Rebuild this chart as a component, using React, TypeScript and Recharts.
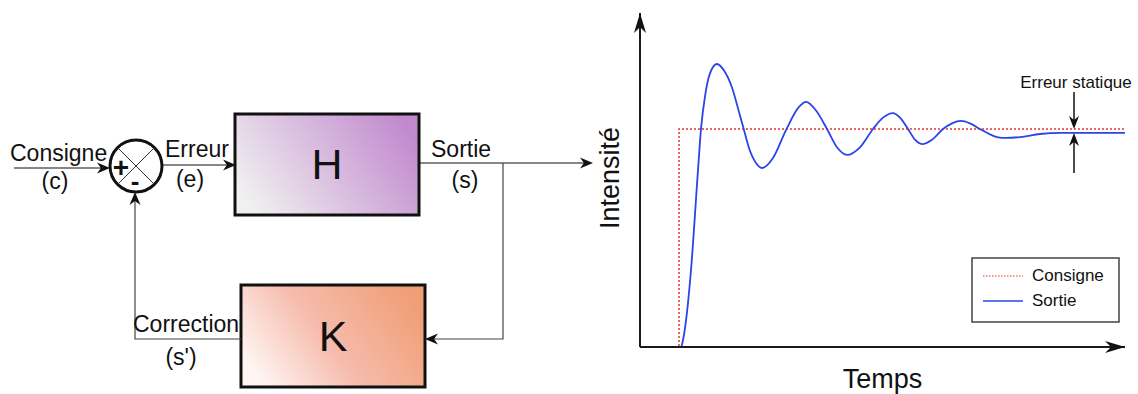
import React from "react"
import { LineChart, Line, XAxis, YAxis, ReferenceDot, Legend } from "recharts"

// time axis runs 0..485, value 1 = consigne level
const consigneT = [0, 39, 485]
const consigneV = [0, 1, 1]

const sortieT = [
  0, 41, 43, 48, 51, 58, 61, 65, 70, 77, 84, 92, 99, 104, 109, 116, 122, 133, 146, 159, 166, 176,
  187, 197, 207, 220, 233, 243, 253, 260, 268, 275, 282, 292, 303, 312, 321, 330, 340, 357, 366,
  380, 400, 420, 485,
]
const sortieV = [
  0, 0, 0.032, 0.202, 0.353, 0.812, 1.0, 1.15, 1.255, 1.298, 1.268, 1.19, 1.078, 0.995, 0.913,
  0.844, 0.821, 0.867, 0.995, 1.101, 1.124, 1.085, 1.0, 0.916, 0.881, 0.916, 1.0, 1.052, 1.073,
  1.052, 1.0, 0.951, 0.931, 0.951, 1.0, 1.026, 1.037, 1.026, 1.0, 0.963, 0.959, 0.963, 0.977,
  0.982, 0.982,
]

const errT = 434
const finalV = sortieV[sortieV.length - 1]
const yMax = 1.532
const xMax = 485

const consigneData = consigneT.map((t, i) => ({ t, v: consigneV[i] }))
const sortieData = sortieT.map((t, i) => ({ t, v: sortieV[i] }))

const FONT = "'Liberation Sans', Arial, sans-serif"
const RED = "#e0352b"
const BLUE = "#2a44e8"

function arrowHead(x: number, y: number, dir: "r" | "l" | "u" | "d", len = 13, w = 5.5) {
  const n = len * 0.7
  if (dir === "r") return `M${x},${y} L${x - len},${y - w} L${x - n},${y} L${x - len},${y + w} Z`
  if (dir === "l") return `M${x},${y} L${x + len},${y - w} L${x + n},${y} L${x + len},${y + w} Z`
  if (dir === "u") return `M${x},${y} L${x - w},${y + len} L${x},${y + n} L${x + w},${y + len} Z`
  return `M${x},${y} L${x - w},${y - len} L${x},${y - n} L${x + w},${y - len} Z`
}

function BlockDiagram() {
  const txt = { fontFamily: FONT, fontSize: 23, fill: "#111" }
  return (
    <svg width={600} height={394} style={{ position: "absolute", left: 0, top: 0, overflow: "visible" }}>
      <defs>
        <linearGradient id="gH" x1="0" y1="0.7" x2="1" y2="0.3">
          <stop offset="0" stopColor="#f0f0f0" />
          <stop offset="1" stopColor="#c28ace" />
        </linearGradient>
        <linearGradient id="gK" x1="0" y1="0.7" x2="1" y2="0.3">
          <stop offset="0" stopColor="#fff6f4" />
          <stop offset="0.45" stopColor="#f6bcad" />
          <stop offset="1" stopColor="#f09e76" />
        </linearGradient>
      </defs>

      {/* consigne input */}
      <line x1={14} y1={168} x2={104} y2={168} stroke="#111" strokeWidth={1.2} />
      <path d={arrowHead(110, 168, "r")} fill="#111" />
      <text x={10} y={161} {...txt}>Consigne</text>
      <text x={55} y={189} textAnchor="middle" {...txt}>(c)</text>

      {/* summing junction */}
      <circle cx={136} cy={166} r={26} fill="#fff" stroke="#111" strokeWidth={3} />
      <line x1={117.6} y1={147.6} x2={154.4} y2={184.4} stroke="#333" strokeWidth={1} />
      <line x1={154.4} y1={147.6} x2={117.6} y2={184.4} stroke="#333" strokeWidth={1} />
      <text x={121} y={177} textAnchor="middle" fontFamily={FONT} fontSize={28} fontWeight="bold" fill="#111">+</text>
      <text x={135} y={190} textAnchor="middle" fontFamily={FONT} fontSize={26} fontWeight="bold" fill="#111">-</text>

      {/* erreur */}
      <line x1={162} y1={165} x2={230} y2={165} stroke="#111" strokeWidth={1.2} />
      <path d={arrowHead(236, 165, "r")} fill="#111" />
      <text x={165} y={157} {...txt}>Erreur</text>
      <text x={190} y={187} textAnchor="middle" {...txt}>(e)</text>

      {/* H block */}
      <rect x={235} y={114} width={184} height={101} fill="url(#gH)" stroke="#111" strokeWidth={3} />
      <text x={327} y={179} textAnchor="middle" fontFamily={FONT} fontSize={43} fill="#111">H</text>

      {/* sortie */}
      <line x1={419} y1={163} x2={586} y2={163} stroke="#111" strokeWidth={1.2} />
      <path d={arrowHead(593, 163, "r")} fill="#111" />
      <text x={431} y={157} {...txt}>Sortie</text>
      <text x={465} y={188} textAnchor="middle" {...txt}>(s)</text>

      {/* feedback path */}
      <polyline points="503,163 503,339 431,339" fill="none" stroke="#444" strokeWidth={1.2} />
      <path d={arrowHead(425, 339, "l")} fill="#111" />
      <rect x={241} y={285} width={184} height={102} fill="url(#gK)" stroke="#111" strokeWidth={3} />
      <text x={333} y={351} textAnchor="middle" fontFamily={FONT} fontSize={43} fill="#111">K</text>
      <polyline points="241,339 135,339 135,199" fill="none" stroke="#444" strokeWidth={1.2} />
      <path d={arrowHead(135, 192, "u")} fill="#111" />
      <text x={133} y={332} {...txt}>Correction</text>
      <text x={181} y={365} textAnchor="middle" {...txt}>(s')</text>
    </svg>
  )
}

function LegendBox() {
  const row = (label: string, color: string, dash: string | undefined, y: number) => (
    <g>
      <line x1={12} y1={y} x2={52} y2={y} stroke={color} strokeWidth={dash ? 1 : 1.5} strokeDasharray={dash} />
      <text x={61} y={y + 5} fontFamily={FONT} fontSize={17} fill="#111">{label}</text>
    </g>
  )
  return (
    <svg width={150} height={67} style={{ display: "block" }}>
      <rect x={1} y={1} width={147} height={64} fill="#fff" stroke="#444" strokeWidth={1.5} />
      {row("Consigne", RED, "1.5 1.5", 19)}
      {row("Sortie", BLUE, undefined, 44)}
    </svg>
  )
}

export default function App() {
  return (
    <div style={{ position: "absolute", left: 0, top: 0, width: 1138, height: 394, background: "#fff" }}>
      <BlockDiagram />
      <div style={{ position: "absolute", left: 590, top: 0 }}>
        <LineChart width={548} height={394} margin={{ top: 13, right: 13, bottom: 46, left: 49 }}>
          <XAxis
            type="number"
            dataKey="t"
            domain={[0, xMax]}
            allowDataOverflow
            height={1}
            tick={false}
            tickLine={false}
            axisLine={{ stroke: "#1a1a1a", strokeWidth: 2 }}
            label={(p: any) => {
              const vb = p.viewBox || { x: 50, y: 347, width: 485 }
              return (
                <text x={vb.x + vb.width / 2} y={vb.y + 41} textAnchor="middle" fontFamily={FONT} fontSize={27} fill="#111">
                  Temps
                </text>
              )
            }}
          />
          <YAxis
            type="number"
            domain={[0, yMax]}
            allowDataOverflow
            width={1}
            tick={false}
            tickLine={false}
            axisLine={{ stroke: "#1a1a1a", strokeWidth: 2 }}
            label={(p: any) => {
              const vb = p.viewBox || { x: 49, width: 1, y: 13, height: 334 }
              const x = vb.x + vb.width - 21
              const y = vb.y + vb.height / 2 - 2
              return (
                <text x={x} y={y} transform={`rotate(-90 ${x} ${y})`} textAnchor="middle" fontFamily={FONT} fontSize={27} fill="#111">
                  Intensité
                </text>
              )
            }}
          />
          <Legend
            layout="vertical"
            align="center"
            verticalAlign="middle"
            wrapperStyle={{ left: 381, top: 257, width: 150, height: 67 }}
            content={() => <LegendBox />}
          />
          <Line
            data={consigneData}
            dataKey="v"
            name="Consigne"
            type="stepAfter"
            stroke={RED}
            strokeWidth={1.5}
            strokeDasharray="2 2"
            dot={false}
            activeDot={false}
            isAnimationActive={false}
          />
          <Line
            data={sortieData}
            dataKey="v"
            name="Sortie"
            type="monotone"
            stroke={BLUE}
            strokeWidth={1.8}
            dot={false}
            activeDot={false}
            isAnimationActive={false}
          />
          <ReferenceDot
            x={0}
            y={yMax}
            ifOverflow="visible"
            shape={(p: any) => <path d={arrowHead(p.cx, p.cy, "u", 20, 6)} fill="#111" />}
          />
          <ReferenceDot
            x={xMax}
            y={0}
            ifOverflow="visible"
            shape={(p: any) => <path d={arrowHead(p.cx, p.cy, "r", 20, 6)} fill="#111" />}
          />
          <ReferenceDot
            x={errT}
            y={1}
            ifOverflow="visible"
            shape={(p: any) => (
              <g>
                <line x1={p.cx} y1={p.cy - 37} x2={p.cx} y2={p.cy - 8} stroke="#111" strokeWidth={1.5} />
                <path d={arrowHead(p.cx, p.cy, "d", 13, 5)} fill="#111" />
                <text x={p.cx + 2} y={p.cy - 41} textAnchor="middle" fontFamily={FONT} fontSize={17} fill="#111">
                  Erreur statique
                </text>
              </g>
            )}
          />
          <ReferenceDot
            x={errT}
            y={finalV}
            ifOverflow="visible"
            shape={(p: any) => (
              <g>
                <line x1={p.cx} y1={p.cy + 40} x2={p.cx} y2={p.cy + 8} stroke="#111" strokeWidth={1.5} />
                <path d={arrowHead(p.cx, p.cy, "u", 13, 5)} fill="#111" />
              </g>
            )}
          />
        </LineChart>
      </div>
    </div>
  )
}
